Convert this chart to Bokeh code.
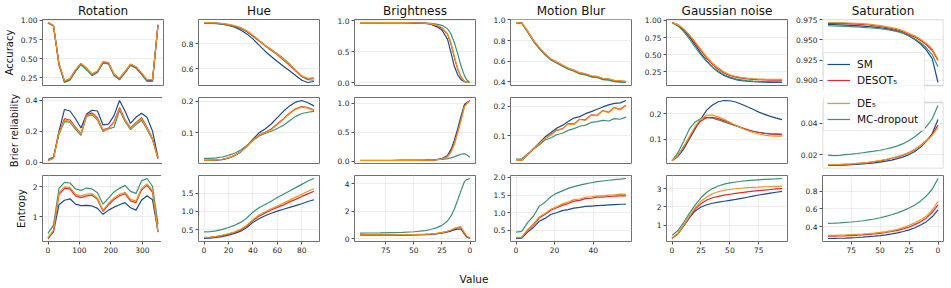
import numpy as np
from bokeh.plotting import figure
from bokeh.layouts import gridplot, column
from bokeh.models import Range1d, FixedTicker, PrintfTickFormatter, Legend, LegendItem, Div, BoxAnnotation
from bokeh.embed import file_html
from bokeh.resources import INLINE

METHODS = ["SM", "DESOT₅", "DE₅", "MC-dropout"]
COLORS = ["#1b4b8a", "#e0282e", "#e8981e", "#3b8f7b"]
DRAW_ORDER = [0, 3, 1, 2]

TITLES = ["Rotation", "Hue", "Brightness", "Motion Blur", "Gaussian noise", "Saturation"]
ROW_LABELS = ["Accuracy", "Brier reliability", "Entropy"]

# ---------------- x values ----------------
rotation_x = [0, 17.5, 35, 52.5, 70, 87.5, 105, 122.5, 140, 157.5, 175, 192.5, 210, 227.5, 245, 262.5, 280, 297.5, 315, 332.5, 350]
hue_x = [0, 5, 10, 15, 20, 25, 30, 35, 40, 45, 50, 55, 60, 65, 70, 75, 80, 85, 90]
brightness_x = [98, 90, 80, 70, 60, 50, 40, 35, 30, 25, 20, 17, 14, 11, 8, 5, 3, 0]
motion_x = [0, 3, 6, 9, 12, 15, 18, 21, 24, 27, 30, 33, 36, 39, 42, 45, 48, 51, 54, 57]
gaussian_x = [0, 5, 10, 15, 20, 25, 30, 35, 40, 45, 50, 55, 60, 65, 70, 75, 80, 85, 90, 95]
saturation_x = [95, 90, 85, 80, 75, 70, 65, 60, 55, 50, 45, 40, 35, 30, 25, 20, 15, 10, 5, 0]

# ---------------- Rotation ----------------
rotation_acc_SM = [0.970, 0.930, 0.425, 0.200, 0.230, 0.345, 0.430, 0.365, 0.290, 0.330, 0.450, 0.440, 0.290, 0.235, 0.325, 0.420, 0.385, 0.305, 0.215, 0.215, 0.940]
rotation_acc_DESOT = [0.972, 0.934, 0.432, 0.208, 0.238, 0.353, 0.438, 0.373, 0.298, 0.338, 0.458, 0.448, 0.298, 0.243, 0.333, 0.428, 0.393, 0.313, 0.223, 0.223, 0.944]
rotation_acc_DE = [0.973, 0.935, 0.435, 0.210, 0.240, 0.356, 0.441, 0.376, 0.301, 0.341, 0.461, 0.451, 0.301, 0.246, 0.336, 0.431, 0.396, 0.316, 0.226, 0.226, 0.946]
rotation_acc_MC = [0.968, 0.925, 0.418, 0.190, 0.220, 0.335, 0.422, 0.357, 0.280, 0.320, 0.443, 0.433, 0.280, 0.225, 0.315, 0.412, 0.377, 0.295, 0.205, 0.205, 0.935]

rotation_brier_SM = [0.010, 0.030, 0.200, 0.340, 0.330, 0.280, 0.220, 0.310, 0.335, 0.330, 0.240, 0.245, 0.300, 0.398, 0.330, 0.250, 0.290, 0.315, 0.290, 0.200, 0.030]
rotation_brier_DESOT = [0.010, 0.025, 0.190, 0.280, 0.272, 0.225, 0.182, 0.305, 0.318, 0.285, 0.208, 0.220, 0.260, 0.352, 0.275, 0.220, 0.255, 0.287, 0.225, 0.152, 0.020]
rotation_brier_DE = [0.010, 0.025, 0.185, 0.270, 0.265, 0.220, 0.180, 0.300, 0.310, 0.280, 0.205, 0.215, 0.255, 0.345, 0.270, 0.215, 0.250, 0.280, 0.220, 0.150, 0.020]
rotation_brier_MC = [0.018, 0.032, 0.180, 0.262, 0.258, 0.212, 0.172, 0.295, 0.305, 0.272, 0.198, 0.215, 0.225, 0.335, 0.262, 0.210, 0.243, 0.270, 0.212, 0.145, 0.025]

rotation_ent_SM = [0.27, 0.50, 1.40, 1.55, 1.60, 1.42, 1.37, 1.38, 1.36, 1.28, 1.08, 1.22, 1.32, 1.40, 1.47, 1.30, 1.22, 1.55, 1.70, 1.57, 0.50]
rotation_ent_DESOT = [0.28, 0.52, 1.75, 1.95, 1.93, 1.70, 1.64, 1.70, 1.72, 1.58, 1.18, 1.40, 1.58, 1.70, 1.77, 1.53, 1.47, 1.90, 2.05, 1.82, 0.48]
rotation_ent_DE = [0.30, 0.55, 1.80, 2.00, 1.98, 1.75, 1.70, 1.76, 1.77, 1.63, 1.22, 1.45, 1.63, 1.75, 1.82, 1.58, 1.52, 1.95, 2.10, 1.88, 0.50]
rotation_ent_MC = [0.44, 0.72, 1.95, 2.15, 2.13, 1.93, 1.88, 1.96, 1.93, 1.80, 1.42, 1.62, 1.83, 1.95, 2.05, 1.85, 1.78, 2.20, 2.28, 2.02, 0.75]

# ---------------- Hue ----------------
hue_acc_SM = [0.970, 0.968, 0.964, 0.958, 0.948, 0.934, 0.912, 0.880, 0.840, 0.790, 0.742, 0.700, 0.660, 0.622, 0.585, 0.548, 0.510, 0.492, 0.500]
hue_acc_DESOT = [0.970, 0.969, 0.966, 0.962, 0.955, 0.944, 0.928, 0.902, 0.866, 0.826, 0.785, 0.750, 0.713, 0.672, 0.630, 0.585, 0.540, 0.522, 0.528]
hue_acc_DE = [0.971, 0.970, 0.967, 0.963, 0.956, 0.946, 0.930, 0.905, 0.870, 0.830, 0.790, 0.755, 0.718, 0.678, 0.636, 0.590, 0.545, 0.525, 0.530]
hue_acc_MC = [0.965, 0.964, 0.962, 0.958, 0.950, 0.940, 0.924, 0.898, 0.862, 0.825, 0.788, 0.756, 0.722, 0.684, 0.640, 0.590, 0.540, 0.515, 0.510]

hue_brier_SM = [0.013, 0.013, 0.014, 0.016, 0.020, 0.028, 0.040, 0.058, 0.080, 0.100, 0.112, 0.128, 0.148, 0.168, 0.185, 0.197, 0.202, 0.195, 0.185]
hue_brier_DESOT = [0.014, 0.014, 0.015, 0.017, 0.021, 0.029, 0.041, 0.057, 0.077, 0.093, 0.102, 0.112, 0.128, 0.145, 0.162, 0.176, 0.183, 0.180, 0.172]
hue_brier_DE = [0.014, 0.014, 0.015, 0.017, 0.021, 0.029, 0.041, 0.057, 0.077, 0.093, 0.101, 0.110, 0.126, 0.143, 0.160, 0.174, 0.181, 0.178, 0.170]
hue_brier_MC = [0.020, 0.020, 0.021, 0.024, 0.029, 0.036, 0.046, 0.060, 0.076, 0.090, 0.098, 0.105, 0.114, 0.124, 0.138, 0.152, 0.161, 0.165, 0.168]

hue_ent_SM = [0.26, 0.27, 0.29, 0.31, 0.35, 0.40, 0.46, 0.56, 0.70, 0.80, 0.88, 0.95, 1.01, 1.06, 1.11, 1.16, 1.21, 1.27, 1.32]
hue_ent_DESOT = [0.28, 0.29, 0.31, 0.34, 0.38, 0.43, 0.49, 0.60, 0.75, 0.87, 0.96, 1.04, 1.11, 1.18, 1.26, 1.33, 1.41, 1.48, 1.55]
hue_ent_DE = [0.29, 0.30, 0.32, 0.35, 0.39, 0.44, 0.51, 0.62, 0.78, 0.90, 0.99, 1.07, 1.15, 1.23, 1.31, 1.39, 1.47, 1.55, 1.62]
hue_ent_MC = [0.44, 0.45, 0.47, 0.51, 0.56, 0.62, 0.70, 0.82, 0.98, 1.10, 1.19, 1.28, 1.38, 1.47, 1.56, 1.65, 1.74, 1.83, 1.90]

# ---------------- Brightness ----------------
brightness_acc_SM = [0.970, 0.970, 0.970, 0.969, 0.967, 0.964, 0.956, 0.945, 0.905, 0.850, 0.700, 0.490, 0.270, 0.130, 0.050, 0.020, 0.010, 0.005]
brightness_acc_DESOT = [0.970, 0.970, 0.970, 0.970, 0.968, 0.966, 0.960, 0.950, 0.925, 0.880, 0.780, 0.630, 0.410, 0.220, 0.090, 0.025, 0.010, 0.005]
brightness_acc_DE = [0.971, 0.971, 0.971, 0.970, 0.969, 0.967, 0.962, 0.953, 0.930, 0.890, 0.790, 0.650, 0.430, 0.230, 0.100, 0.025, 0.010, 0.005]
brightness_acc_MC = [0.966, 0.966, 0.966, 0.966, 0.965, 0.964, 0.961, 0.957, 0.945, 0.925, 0.870, 0.790, 0.650, 0.470, 0.270, 0.120, 0.050, 0.005]

brightness_brier_SM = [0.012, 0.012, 0.012, 0.012, 0.013, 0.014, 0.017, 0.020, 0.028, 0.045, 0.100, 0.200, 0.360, 0.560, 0.780, 0.980, 1.010, 1.050]
brightness_brier_DESOT = [0.012, 0.012, 0.012, 0.012, 0.013, 0.014, 0.016, 0.019, 0.025, 0.038, 0.080, 0.160, 0.300, 0.500, 0.720, 0.950, 1.000, 1.050]
brightness_brier_DE = [0.012, 0.012, 0.012, 0.012, 0.013, 0.014, 0.016, 0.019, 0.025, 0.037, 0.078, 0.155, 0.290, 0.490, 0.710, 0.940, 0.990, 1.050]
brightness_brier_MC = [0.014, 0.014, 0.014, 0.014, 0.015, 0.016, 0.018, 0.020, 0.025, 0.032, 0.045, 0.058, 0.075, 0.100, 0.120, 0.130, 0.110, 0.070]

brightness_ent_SM = [0.27, 0.27, 0.27, 0.27, 0.28, 0.29, 0.31, 0.33, 0.36, 0.42, 0.50, 0.57, 0.65, 0.71, 0.72, 0.35, 0.15, 0.03]
brightness_ent_DESOT = [0.29, 0.29, 0.29, 0.29, 0.30, 0.31, 0.33, 0.35, 0.39, 0.45, 0.55, 0.63, 0.74, 0.82, 0.84, 0.42, 0.20, 0.05]
brightness_ent_DE = [0.30, 0.30, 0.30, 0.30, 0.31, 0.32, 0.34, 0.36, 0.40, 0.46, 0.56, 0.65, 0.76, 0.85, 0.87, 0.45, 0.22, 0.05]
brightness_ent_MC = [0.42, 0.43, 0.44, 0.46, 0.48, 0.52, 0.60, 0.68, 0.80, 0.98, 1.30, 1.65, 2.15, 2.80, 3.50, 4.15, 4.30, 4.38]

# ---------------- Motion Blur ----------------
motion_acc_SM = [0.974, 0.970, 0.888, 0.798, 0.728, 0.668, 0.618, 0.588, 0.558, 0.528, 0.508, 0.483, 0.473, 0.452, 0.447, 0.427, 0.422, 0.407, 0.402, 0.398]
motion_acc_DESOT = [0.975, 0.971, 0.891, 0.801, 0.731, 0.671, 0.621, 0.591, 0.561, 0.531, 0.511, 0.486, 0.476, 0.456, 0.451, 0.431, 0.426, 0.411, 0.406, 0.401]
motion_acc_DE = [0.975, 0.972, 0.893, 0.803, 0.733, 0.673, 0.623, 0.593, 0.563, 0.533, 0.513, 0.488, 0.478, 0.458, 0.453, 0.433, 0.428, 0.413, 0.408, 0.403]
motion_acc_MC = [0.970, 0.966, 0.884, 0.793, 0.722, 0.662, 0.612, 0.582, 0.552, 0.522, 0.502, 0.477, 0.467, 0.446, 0.441, 0.421, 0.416, 0.401, 0.396, 0.393]

motion_brier_SM = [0.015, 0.016, 0.035, 0.055, 0.075, 0.095, 0.110, 0.125, 0.135, 0.148, 0.160, 0.165, 0.175, 0.182, 0.190, 0.198, 0.205, 0.210, 0.212, 0.220]
motion_brier_DESOT = [0.015, 0.016, 0.035, 0.054, 0.072, 0.090, 0.103, 0.119, 0.123, 0.141, 0.140, 0.156, 0.154, 0.171, 0.169, 0.186, 0.180, 0.196, 0.190, 0.204]
motion_brier_DE = [0.015, 0.016, 0.035, 0.054, 0.072, 0.090, 0.102, 0.118, 0.122, 0.140, 0.138, 0.155, 0.152, 0.170, 0.168, 0.185, 0.178, 0.195, 0.188, 0.203]
motion_brier_MC = [0.020, 0.021, 0.037, 0.053, 0.068, 0.085, 0.092, 0.103, 0.108, 0.118, 0.124, 0.132, 0.136, 0.145, 0.148, 0.152, 0.150, 0.158, 0.156, 0.163]

motion_ent_SM = [0.27, 0.28, 0.45, 0.58, 0.76, 0.84, 0.95, 1.00, 1.06, 1.09, 1.13, 1.15, 1.18, 1.19, 1.20, 1.21, 1.22, 1.23, 1.24, 1.24]
motion_ent_DESOT = [0.29, 0.30, 0.50, 0.65, 0.85, 0.95, 1.07, 1.14, 1.21, 1.26, 1.33, 1.35, 1.40, 1.41, 1.44, 1.44, 1.46, 1.47, 1.48, 1.48]
motion_ent_DE = [0.30, 0.31, 0.52, 0.68, 0.88, 0.98, 1.10, 1.17, 1.25, 1.30, 1.37, 1.39, 1.44, 1.45, 1.48, 1.48, 1.50, 1.51, 1.53, 1.52]
motion_ent_MC = [0.45, 0.47, 0.72, 0.90, 1.18, 1.30, 1.45, 1.55, 1.62, 1.69, 1.74, 1.78, 1.82, 1.85, 1.88, 1.90, 1.92, 1.94, 1.95, 1.97]

# ---------------- Gaussian noise ----------------
gaussian_acc_SM = [0.970, 0.930, 0.860, 0.760, 0.640, 0.520, 0.410, 0.320, 0.250, 0.200, 0.165, 0.140, 0.125, 0.115, 0.108, 0.104, 0.101, 0.099, 0.098, 0.097]
gaussian_acc_DESOT = [0.970, 0.940, 0.870, 0.780, 0.670, 0.560, 0.450, 0.360, 0.290, 0.235, 0.200, 0.175, 0.160, 0.150, 0.142, 0.137, 0.134, 0.132, 0.131, 0.130]
gaussian_acc_DE = [0.970, 0.940, 0.880, 0.790, 0.690, 0.580, 0.470, 0.380, 0.310, 0.250, 0.210, 0.185, 0.170, 0.160, 0.152, 0.148, 0.145, 0.143, 0.142, 0.142]
gaussian_acc_MC = [0.965, 0.920, 0.840, 0.730, 0.610, 0.500, 0.400, 0.320, 0.260, 0.210, 0.175, 0.150, 0.135, 0.125, 0.118, 0.114, 0.111, 0.109, 0.108, 0.107]

gaussian_brier_SM = [0.015, 0.030, 0.060, 0.100, 0.140, 0.180, 0.215, 0.235, 0.248, 0.253, 0.252, 0.247, 0.238, 0.228, 0.218, 0.207, 0.198, 0.190, 0.183, 0.177]
gaussian_brier_DESOT = [0.015, 0.035, 0.068, 0.105, 0.145, 0.172, 0.185, 0.186, 0.181, 0.173, 0.164, 0.155, 0.146, 0.138, 0.131, 0.126, 0.122, 0.120, 0.119, 0.118]
gaussian_brier_DE = [0.015, 0.035, 0.070, 0.110, 0.150, 0.180, 0.195, 0.195, 0.188, 0.178, 0.167, 0.155, 0.144, 0.134, 0.126, 0.120, 0.116, 0.113, 0.112, 0.112]
gaussian_brier_MC = [0.015, 0.045, 0.090, 0.140, 0.168, 0.182, 0.186, 0.183, 0.176, 0.168, 0.160, 0.152, 0.144, 0.137, 0.131, 0.127, 0.124, 0.122, 0.121, 0.120]

gaussian_ent_SM = [0.28, 0.52, 0.95, 1.40, 1.78, 2.00, 2.12, 2.20, 2.26, 2.31, 2.36, 2.41, 2.47, 2.53, 2.59, 2.65, 2.70, 2.75, 2.80, 2.85]
gaussian_ent_DESOT = [0.30, 0.54, 0.98, 1.46, 1.88, 2.18, 2.38, 2.50, 2.58, 2.64, 2.69, 2.74, 2.78, 2.82, 2.86, 2.89, 2.92, 2.95, 2.98, 3.00]
gaussian_ent_DE = [0.30, 0.55, 1.00, 1.50, 1.95, 2.30, 2.55, 2.72, 2.83, 2.90, 2.95, 2.99, 3.02, 3.05, 3.07, 3.08, 3.10, 3.11, 3.12, 3.13]
gaussian_ent_MC = [0.45, 0.70, 1.15, 1.65, 2.10, 2.50, 2.80, 3.00, 3.14, 3.24, 3.31, 3.36, 3.40, 3.43, 3.46, 3.48, 3.50, 3.52, 3.53, 3.55]

# ---------------- Saturation ----------------
saturation_acc_SM = [0.9690, 0.9688, 0.9686, 0.9683, 0.9680, 0.9676, 0.9671, 0.9665, 0.9658, 0.9650, 0.9640, 0.9627, 0.9610, 0.9585, 0.9550, 0.9505, 0.9450, 0.9375, 0.9270, 0.8975]
saturation_acc_DESOT = [0.9705, 0.9705, 0.9704, 0.9702, 0.9699, 0.9695, 0.9690, 0.9684, 0.9676, 0.9666, 0.9655, 0.9641, 0.9624, 0.9600, 0.9568, 0.9535, 0.9492, 0.9440, 0.9370, 0.9250]
saturation_acc_DE = [0.9715, 0.9715, 0.9714, 0.9712, 0.9709, 0.9705, 0.9700, 0.9694, 0.9686, 0.9676, 0.9666, 0.9652, 0.9636, 0.9612, 0.9580, 0.9550, 0.9510, 0.9460, 0.9390, 0.9265]
saturation_acc_MC = [0.9675, 0.9672, 0.9669, 0.9666, 0.9663, 0.9660, 0.9656, 0.9650, 0.9645, 0.9638, 0.9630, 0.9618, 0.9602, 0.9580, 0.9550, 0.9512, 0.9465, 0.9400, 0.9320, 0.9170]

saturation_brier_SM = [0.0130, 0.0131, 0.0132, 0.0133, 0.0135, 0.0137, 0.0140, 0.0143, 0.0147, 0.0152, 0.0158, 0.0165, 0.0174, 0.0185, 0.0200, 0.0220, 0.0248, 0.0285, 0.0335, 0.0425]
saturation_brier_DESOT = [0.0133, 0.0134, 0.0135, 0.0137, 0.0139, 0.0142, 0.0145, 0.0149, 0.0154, 0.0160, 0.0167, 0.0175, 0.0185, 0.0197, 0.0212, 0.0232, 0.0258, 0.0290, 0.0330, 0.0390]
saturation_brier_DE = [0.0135, 0.0136, 0.0137, 0.0139, 0.0141, 0.0144, 0.0147, 0.0151, 0.0156, 0.0162, 0.0169, 0.0177, 0.0187, 0.0199, 0.0214, 0.0233, 0.0257, 0.0287, 0.0323, 0.0375]
saturation_brier_MC = [0.0196, 0.0194, 0.0195, 0.0200, 0.0203, 0.0207, 0.0212, 0.0218, 0.0222, 0.0228, 0.0236, 0.0245, 0.0256, 0.0270, 0.0290, 0.0315, 0.0345, 0.0380, 0.0430, 0.0515]

saturation_ent_SM = [0.270, 0.271, 0.273, 0.275, 0.278, 0.281, 0.285, 0.290, 0.296, 0.303, 0.311, 0.321, 0.333, 0.348, 0.367, 0.390, 0.420, 0.458, 0.512, 0.590]
saturation_ent_DESOT = [0.295, 0.296, 0.298, 0.300, 0.303, 0.306, 0.310, 0.315, 0.321, 0.328, 0.337, 0.348, 0.361, 0.378, 0.399, 0.425, 0.458, 0.500, 0.560, 0.645]
saturation_ent_DE = [0.305, 0.306, 0.308, 0.310, 0.313, 0.316, 0.320, 0.325, 0.331, 0.338, 0.347, 0.358, 0.372, 0.392, 0.418, 0.445, 0.478, 0.522, 0.585, 0.683]
saturation_ent_MC = [0.440, 0.442, 0.445, 0.449, 0.454, 0.460, 0.468, 0.477, 0.488, 0.502, 0.517, 0.535, 0.556, 0.581, 0.610, 0.645, 0.690, 0.745, 0.820, 0.940]

# ---------------- ticks ----------------
x_ticks = [[0, 100, 200, 300], [0, 20, 40, 60, 80], [75, 50, 25, 0], [0, 20, 40], [0, 25, 50, 75], [75, 50, 25, 0]]
x_inverted = [False, False, True, False, False, True]
y_ticks = [
    [[0.25, 0.5, 0.75, 1.0], [0.6, 0.8], [0.0, 0.5, 1.0], [0.4, 0.6, 0.8, 1.0], [0.25, 0.5, 0.75, 1.0], [0.9, 0.925, 0.95, 0.975]],
    [[0.0, 0.2, 0.4], [0.1, 0.2], [0.0, 0.5, 1.0], [0.1, 0.2], [0.1, 0.2], [0.02, 0.04]],
    [[1, 2], [0.5, 1.0, 1.5], [0, 2, 4], [0.5, 1.0, 1.5, 2.0], [1, 2, 3], [0.4, 0.6, 0.8]],
]
y_formats = [
    ["%.2f", "%.1f", "%.1f", "%.1f", "%.2f", "%.3f"],
    ["%.1f", "%.1f", "%.1f", "%.1f", "%.1f", "%.2f"],
    ["%d", "%.1f", "%d", "%.1f", "%d", "%.1f"],
]

X_VALUES = [rotation_x, hue_x, brightness_x, motion_x, gaussian_x, saturation_x]
SERIES = [
    [
        [rotation_acc_SM, rotation_acc_DESOT, rotation_acc_DE, rotation_acc_MC],
        [hue_acc_SM, hue_acc_DESOT, hue_acc_DE, hue_acc_MC],
        [brightness_acc_SM, brightness_acc_DESOT, brightness_acc_DE, brightness_acc_MC],
        [motion_acc_SM, motion_acc_DESOT, motion_acc_DE, motion_acc_MC],
        [gaussian_acc_SM, gaussian_acc_DESOT, gaussian_acc_DE, gaussian_acc_MC],
        [saturation_acc_SM, saturation_acc_DESOT, saturation_acc_DE, saturation_acc_MC],
    ],
    [
        [rotation_brier_SM, rotation_brier_DESOT, rotation_brier_DE, rotation_brier_MC],
        [hue_brier_SM, hue_brier_DESOT, hue_brier_DE, hue_brier_MC],
        [brightness_brier_SM, brightness_brier_DESOT, brightness_brier_DE, brightness_brier_MC],
        [motion_brier_SM, motion_brier_DESOT, motion_brier_DE, motion_brier_MC],
        [gaussian_brier_SM, gaussian_brier_DESOT, gaussian_brier_DE, gaussian_brier_MC],
        [saturation_brier_SM, saturation_brier_DESOT, saturation_brier_DE, saturation_brier_MC],
    ],
    [
        [rotation_ent_SM, rotation_ent_DESOT, rotation_ent_DE, rotation_ent_MC],
        [hue_ent_SM, hue_ent_DESOT, hue_ent_DE, hue_ent_MC],
        [brightness_ent_SM, brightness_ent_DESOT, brightness_ent_DE, brightness_ent_MC],
        [motion_ent_SM, motion_ent_DESOT, motion_ent_DE, motion_ent_MC],
        [gaussian_ent_SM, gaussian_ent_DESOT, gaussian_ent_DE, gaussian_ent_MC],
        [saturation_ent_SM, saturation_ent_DESOT, saturation_ent_DE, saturation_ent_MC],
    ],
]

FONT = "DejaVu Sans"
FRAME_W, FRAME_H = 121, 66
GAP_HALF = 6
EXT = GAP_HALF - 1   # keep a 1px border (a 0 border falls back to the default)
# The legend straddles rows 1 and 2 of the last column.  Those two plots get a
# frame that reaches into the gap between them (so the legend is not clipped);
# their visible box is drawn with a BoxAnnotation at the true data bounds.
LEGEND_PARTS = {0: ([0, 1], -2), 1: ([2, 3], 37)}


def padded(lo, hi, frac=0.05):
    pad = (hi - lo) * frac
    return lo - pad, hi + pad


def style_legend(leg):
    leg.margin = 0
    leg.padding = 3
    leg.spacing = 0
    leg.glyph_width = 23
    leg.glyph_height = 16
    leg.label_height = 16
    leg.label_width = 64
    leg.label_standoff = 7
    leg.label_text_font = FONT
    leg.label_text_font_size = "10.5px"
    leg.label_text_color = "#111111"
    leg.border_line_color = "#d0d0d0"
    leg.border_line_width = 1
    leg.background_fill_color = "white"
    leg.background_fill_alpha = 0.8


rows = []
for r in range(3):
    row = []
    for c in range(6):
        xs = X_VALUES[c]
        ys_all = SERIES[r][c]
        ylo, yhi = padded(float(np.min(np.concatenate(ys_all))), float(np.max(np.concatenate(ys_all))))
        xlo, xhi = padded(float(min(xs)), float(max(xs)))
        xr = Range1d(xhi, xlo) if x_inverted[c] else Range1d(xlo, xhi)
        straddle = (c == 5 and r in LEGEND_PARTS)
        frame_h = FRAME_H
        y_start, y_end = ylo, yhi
        border_top = 16 if r == 0 else GAP_HALF
        border_bottom = 18 if r == 2 else GAP_HALF
        if straddle:
            frame_h = FRAME_H + EXT
            per_px = (yhi - ylo) / FRAME_H
            if r == 0:
                y_start = ylo - EXT * per_px
                border_bottom = GAP_HALF - EXT
            else:
                y_end = yhi + EXT * per_px
                border_top = GAP_HALF - EXT
        p = figure(
            frame_width=FRAME_W, frame_height=frame_h,
            x_range=xr, y_range=Range1d(y_start, y_end),
            output_backend="svg", toolbar_location=None,
            x_axis_location="below" if r == 2 else None,
            min_border_left=36 if c == 0 else 31, min_border_right=4,
            min_border_top=border_top, min_border_bottom=border_bottom,
            background_fill_color="white", border_fill_color="white",
        )
        p.outline_line_color = "#707070"
        p.outline_line_width = 1
        p.grid.grid_line_color = "#e8e8e8"
        p.grid.grid_line_width = 0.8
        if r < 2:
            p.xgrid.visible = False
        else:
            p.xaxis.ticker = FixedTicker(ticks=x_ticks[c])
            p.xaxis.formatter = PrintfTickFormatter(format="%d")
        p.yaxis.ticker = FixedTicker(ticks=y_ticks[r][c])
        p.yaxis.formatter = PrintfTickFormatter(format=y_formats[r][c])
        for ax in p.axis:
            ax.axis_line_color = None
            ax.major_tick_line_color = "#505050"
            ax.major_tick_out = 3
            ax.major_tick_in = 0
            ax.minor_tick_line_color = None
            ax.major_label_text_font = FONT
            ax.major_label_text_font_size = "7.5px"
            ax.major_label_text_color = "#262626"
            ax.major_label_standoff = 2
        if c == 0:
            p.yaxis.axis_label = ROW_LABELS[r]
            p.yaxis.axis_label_text_font = FONT
            p.yaxis.axis_label_text_font_size = "10px"
            p.yaxis.axis_label_text_font_style = "normal"
            p.yaxis.axis_label_text_color = "#111111"
            p.yaxis.axis_label_standoff = 3
        if r == 0:
            p.title.text = TITLES[c]
            p.title.align = "center"
            p.title.text_font = FONT
            p.title.text_font_size = "12px"
            p.title.text_font_style = "normal"
            p.title.text_color = "#111111"
            p.title.standoff = 3

        rends = {}
        for k in DRAW_ORDER:
            rends[k] = p.line(xs, ys_all[k], line_color=COLORS[k], line_width=1.2)

        if straddle:
            p.outline_line_color = None
            box = BoxAnnotation(
                bottom=ylo if r == 0 else None, top=yhi if r == 1 else None,
                fill_color=None, fill_alpha=0,
                line_color="#707070", line_width=1.6,
            )
            p.add_layout(box)
            keys, vy = LEGEND_PARTS[r]
            items = [LegendItem(label=METHODS[k], renderers=[rends[k]]) for k in keys]
            leg = Legend(items=items, location=(1, vy))
            style_legend(leg)
            p.add_layout(leg)
        row.append(p)
    rows.append(row)

grid = gridplot(rows, toolbar_location=None)
label = Div(
    text='<div style="width:938px;text-align:center;font-family:\'DejaVu Sans\';font-size:10.5px;color:#111;padding-top:8px">Value</div>',
    width=938, height=24,
)
layout = column(grid, label)

open("out.html", "w").write(file_html(layout, INLINE))
